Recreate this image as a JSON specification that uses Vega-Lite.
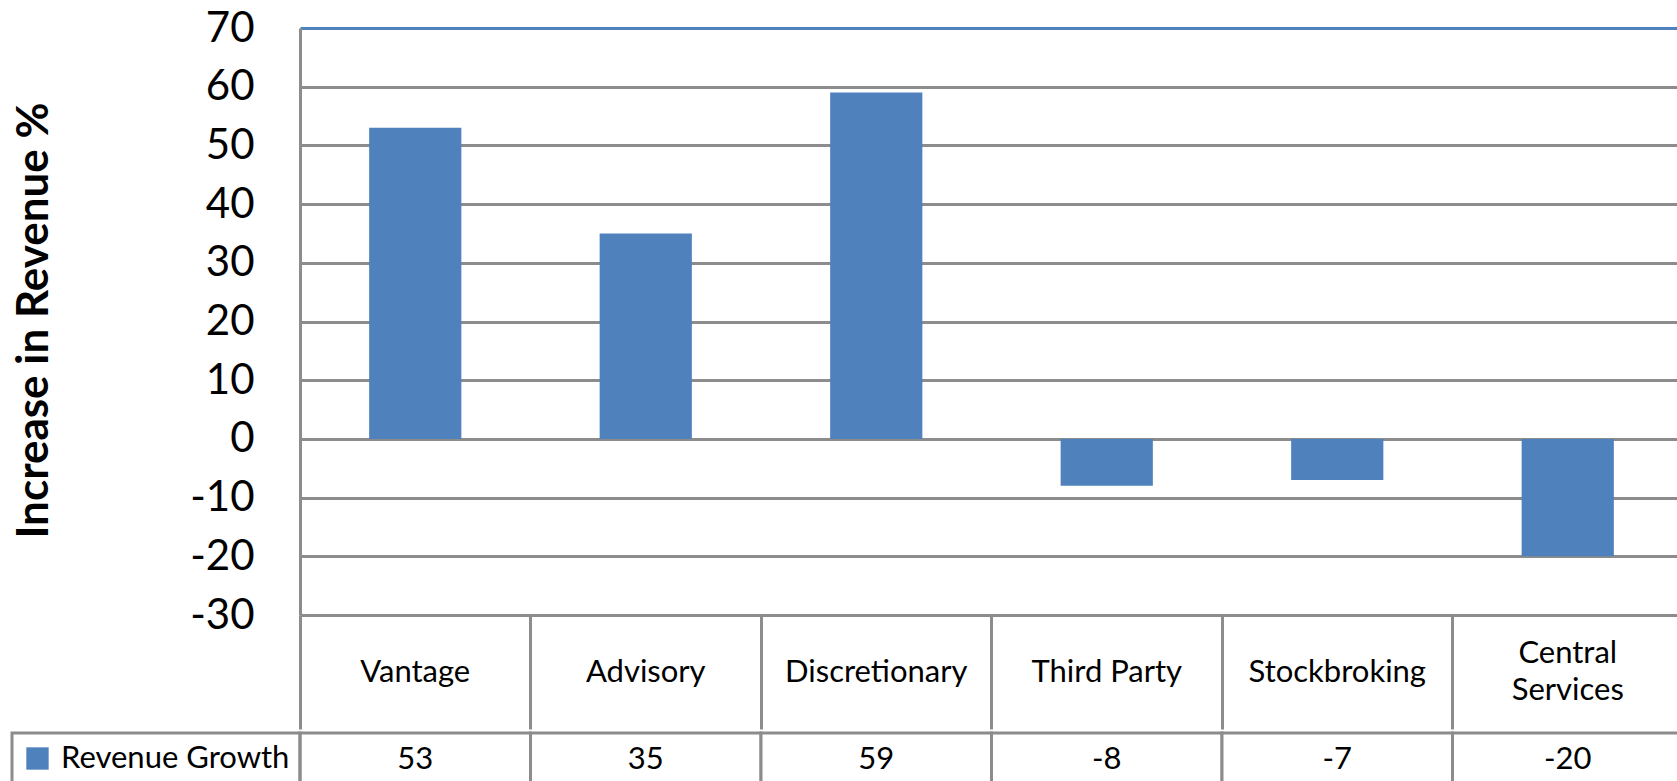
{
  "$schema": "https://vega.github.io/schema/vega-lite/v6.json",
  "padding": {"left": 10, "top": 7, "right": 0, "bottom": 0},
  "background": "white",
  "config": {
    "font": "Lato",
    "view": {"stroke": null},
    "concat": {"spacing": 0}
  },
  "resolve": {"legend": {"color": "independent"}, "scale": {"color": "independent"}},
  "datasets": {
    "rev": [
      {"segment": "Vantage", "series": "Revenue Growth", "value": 53},
      {"segment": "Advisory", "series": "Revenue Growth", "value": 35},
      {"segment": "Discretionary", "series": "Revenue Growth", "value": 59},
      {"segment": "Third Party", "series": "Revenue Growth", "value": -8},
      {"segment": "Stockbroking", "series": "Revenue Growth", "value": -7},
      {"segment": "Central Services", "series": "Revenue Growth", "value": -20}
    ]
  },
  "vconcat": [
    {
      "width": 1383,
      "height": 587,
      "data": {"name": "rev"},
      "mark": {"type": "bar", "color": "#4F81BD", "width": {"band": 0.4}},
      "encoding": {
        "x": {
          "field": "segment",
          "type": "nominal",
          "sort": null,
          "scale": {"paddingInner": 0, "paddingOuter": 0},
          "axis": {
            "title": null,
            "orient": "bottom",
            "bandPosition": 0,
            "grid": false,
            "domainColor": "#8C8C8C",
            "domainWidth": 3,
            "ticks": true,
            "tickSize": 114,
            "tickColor": "#8C8C8C",
            "tickWidth": 3,
            "labelAngle": 0,
            "labelFont": "Lato",
            "labelFontSize": 31,
            "labelColor": "black",
            "labelBaseline": "middle",
            "labelPadding": {"condition": {"test": "datum.value == 'Central Services'", "value": -76}, "value": -57},
            "labelLineHeight": 37,
            "labelLimit": 300,
            "labelExpr": "datum.label == 'Central Services' ? ['Central', 'Services'] : datum.label"
          }
        },
        "y": {
          "field": "value",
          "type": "quantitative",
          "scale": {"domain": [-30, 70], "nice": false, "zero": false},
          "axis": {
            "title": "Increase in Revenue %",
            "titleFont": "Lato",
            "titleFontSize": 44,
            "titleFontWeight": "bold",
            "titleColor": "black",
            "titleX": -266,
            "titleY": 292,
            "titleAngle": -90,
            "titleAlign": "center",
            "titleBaseline": "middle",
            "values": [-30, -20, -10, 0, 10, 20, 30, 40, 50, 60, 70],
            "labelExpr": "'' + datum.value",
            "labelFont": "Lato",
            "labelFontSize": 42,
            "labelColor": "black",
            "labelPadding": 46,
            "ticks": false,
            "domain": true,
            "domainColor": "#8C8C8C",
            "domainWidth": 3,
            "grid": true,
            "gridColor": {"condition": {"test": "datum.value == 70", "value": "#4F81BD"}, "value": "#8C8C8C"},
            "gridWidth": 3,
            "gridOpacity": 1
          }
        }
      }
    },
    {
      "width": 1383,
      "height": 54,
      "data": {"name": "rev"},
      "encoding": {
        "x": {"field": "segment", "type": "nominal", "sort": null, "scale": {"paddingInner": 0, "paddingOuter": 0}, "axis": null},
        "y": {"field": "series", "type": "nominal", "scale": {"paddingInner": 0, "paddingOuter": 0}, "axis": null}
      },
      "layer": [
        {"mark": {"type": "rect", "fill": "white", "stroke": "#8C8C8C", "strokeWidth": 3}},
        {
          "mark": {"type": "text", "font": "Lato", "fontSize": 31, "color": "black", "baseline": "middle"},
          "encoding": {"text": {"field": "value", "type": "nominal"}}
        },
        {
          "mark": {"type": "square", "opacity": 0},
          "encoding": {
            "color": {
              "field": "series",
              "type": "nominal",
              "scale": {"range": ["#4F81BD"]},
              "legend": {
                "orient": "left",
                "offset": 0,
                "title": null,
                "symbolType": "square",
                "symbolSize": 500,
                "symbolOpacity": 1,
                "symbolStrokeWidth": 0,
                "symbolFillColor": "#4F81BD",
                "labelFont": "Lato",
                "labelFontSize": 31,
                "labelColor": "black",
                "labelOffset": 8,
                "labelLimit": 400,
                "padding": 10,
                "strokeColor": "#8C8C8C",
                "encode": {"legend": {"update": {"strokeWidth": {"value": 3}}}}
              }
            }
          }
        }
      ]
    }
  ]
}
